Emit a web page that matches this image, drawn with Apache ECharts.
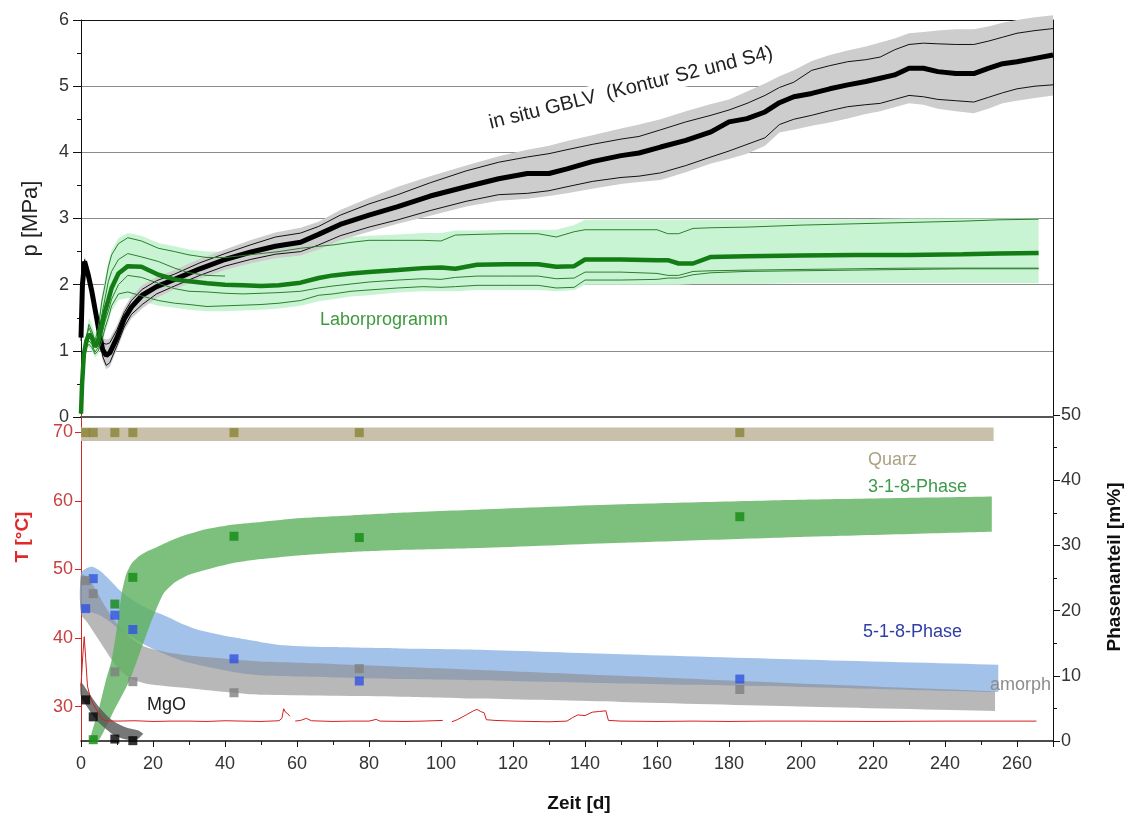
<!DOCTYPE html>
<html>
<head>
<meta charset="utf-8">
<script src="https://cdn.jsdelivr.net/npm/echarts/dist/echarts.min.js"></script>
<style>
html,body{margin:0;padding:0;background:#fff;}
#chart{width:1132px;height:819px;}
</style>
</head>
<body>
<div id="chart"></div>
<script>
// ---------- top panel: in situ GBLV (Kontur S2 und S4) ----------
const inSituDays = [0, 0.4, 1, 2, 3, 4, 5, 6, 7, 8, 10, 12, 14, 17, 21, 26, 33, 40, 47, 54, 61, 66, 72, 80, 88, 97, 107, 116, 124, 130, 135, 142, 150, 155, 161, 168, 175, 180, 185, 190, 194, 198, 203, 208, 213, 218, 222, 226, 230, 234, 238, 243, 248, 252, 256, 260, 265, 270];
const inSituMean = [1.2, 2.0, 2.35, 2.15, 1.9, 1.6, 1.3, 1.02, 0.93, 0.97, 1.2, 1.48, 1.66, 1.84, 1.97, 2.08, 2.24, 2.38, 2.49, 2.58, 2.64, 2.76, 2.91, 3.05, 3.18, 3.34, 3.48, 3.6, 3.68, 3.68, 3.75, 3.86, 3.95, 3.99, 4.08, 4.18, 4.31, 4.46, 4.51, 4.61, 4.75, 4.84, 4.89, 4.96, 5.02, 5.07, 5.12, 5.17, 5.27, 5.27, 5.22, 5.19, 5.19, 5.27, 5.34, 5.37, 5.42, 5.47];
const inSituUpper = [1.25, 2.05, 2.38, 2.2, 1.95, 1.65, 1.36, 1.12, 1.1, 1.12, 1.32, 1.58, 1.76, 1.93, 2.06, 2.16, 2.33, 2.47, 2.6, 2.72, 2.78, 2.88, 3.05, 3.22, 3.36, 3.54, 3.72, 3.85, 3.93, 3.98, 4.04, 4.12, 4.2, 4.24, 4.34, 4.46, 4.56, 4.64, 4.74, 4.86, 4.98, 5.06, 5.24, 5.31, 5.37, 5.4, 5.44, 5.55, 5.63, 5.65, 5.64, 5.63, 5.63, 5.68, 5.74, 5.8, 5.84, 5.87];
const inSituLower = [1.15, 1.95, 2.3, 2.1, 1.85, 1.55, 1.24, 0.92, 0.78, 0.82, 1.08, 1.36, 1.55, 1.7, 1.86, 1.98, 2.14, 2.28, 2.38, 2.46, 2.5, 2.6, 2.74, 2.87, 2.98, 3.12, 3.26, 3.36, 3.38, 3.42, 3.48, 3.56, 3.62, 3.64, 3.69, 3.8, 3.93, 4.02, 4.12, 4.22, 4.42, 4.5, 4.56, 4.63, 4.69, 4.72, 4.74, 4.8, 4.86, 4.84, 4.8, 4.78, 4.76, 4.83, 4.9, 4.96, 5.0, 5.02];
const inSituBandHi = [1.3, 2.1, 2.43, 2.26, 2.01, 1.71, 1.43, 1.2, 1.17, 1.19, 1.39, 1.65, 1.83, 1.99, 2.12, 2.22, 2.39, 2.53, 2.67, 2.79, 2.86, 2.95, 3.13, 3.31, 3.48, 3.64, 3.8, 3.94, 4.04, 4.1, 4.17, 4.26, 4.36, 4.42, 4.5, 4.62, 4.73, 4.8, 4.92, 5.04, 5.15, 5.24, 5.38, 5.47, 5.54, 5.6, 5.66, 5.72, 5.8, 5.82, 5.84, 5.86, 5.86, 5.9, 5.96, 6.0, 6.04, 6.07];
const inSituBandLo = [1.1, 1.9, 2.25, 2.05, 1.8, 1.5, 1.18, 0.85, 0.72, 0.76, 1.02, 1.3, 1.49, 1.64, 1.8, 1.93, 2.09, 2.22, 2.32, 2.4, 2.44, 2.53, 2.67, 2.8, 2.92, 3.04, 3.18, 3.27, 3.3, 3.34, 3.38, 3.45, 3.52, 3.55, 3.58, 3.7, 3.83, 3.9, 3.98, 4.1, 4.3, 4.34, 4.4, 4.45, 4.51, 4.58, 4.62, 4.68, 4.74, 4.72, 4.66, 4.62, 4.59, 4.66, 4.74, 4.78, 4.82, 4.86];

// ---------- top panel: Laborprogramm ----------
const laborDays = [0, 0.3, 0.8, 1.5, 2.2, 3, 3.9, 4.8, 5.8, 6.7, 7.6, 8.5, 10.4, 13, 16.8, 21.5, 26, 30, 35, 40, 45, 50, 55, 61, 66, 70, 75, 80, 88, 95, 100, 104, 110, 118, 127, 132, 137, 140, 150, 160, 163, 166, 170, 175, 185, 200, 215, 230, 245, 255, 266];
const laborMean = [0.05, 0.5, 0.95, 1.15, 1.25, 1.2, 1.06, 1.15, 1.4, 1.6, 1.77, 1.95, 2.17, 2.28, 2.27, 2.15, 2.08, 2.05, 2.02, 2.0, 1.99, 1.98, 1.99, 2.03, 2.1, 2.14, 2.17, 2.19, 2.22, 2.25, 2.26, 2.24, 2.3, 2.31, 2.31, 2.27, 2.28, 2.38, 2.38, 2.37, 2.37, 2.32, 2.32, 2.42, 2.43, 2.44, 2.45, 2.45, 2.46, 2.47, 2.48];
const laborUpper = [0.05, 0.6, 1.0, 1.2, 1.4, 1.3, 1.15, 1.35, 1.75, 2.0, 2.27, 2.45, 2.62, 2.71, 2.66, 2.55, 2.5, 2.45, 2.41, 2.41, 2.44, 2.47, 2.5, 2.55, 2.58, 2.6, 2.64, 2.67, 2.67, 2.67, 2.66, 2.75, 2.76, 2.77, 2.77, 2.72, 2.8, 2.83, 2.83, 2.83, 2.77, 2.77, 2.85, 2.86, 2.87, 2.9, 2.92, 2.94, 2.96, 2.98, 2.99];
const laborUpperMid = [0.05, 0.55, 1.0, 1.2, 1.35, 1.25, 1.1, 1.25, 1.55, 1.8, 2.05, 2.2, 2.38, 2.47, 2.42, 2.35, 2.25, 2.18, 2.14, 2.13, null, null, null, null, null, null, null, null, null, null, null, null, null, null, null, null, null, null, null, null, null, null, null, null, null, null, null, null, null, null, null];
const laborLowerMid = [0.05, 0.45, 0.9, 1.1, 1.15, 1.1, 0.98, 1.05, 1.25, 1.45, 1.6, 1.78, 2.0, 2.14, 2.11, 2.02, 1.94, 1.9, 1.89, 1.87, 1.86, 1.87, 1.88, 1.9, 1.95, 1.98, 2.01, 2.04, 2.07, 2.09, 2.08, 2.11, 2.13, 2.13, 2.13, 2.09, 2.1, 2.19, 2.19, 2.17, 2.14, 2.14, 2.2, 2.21, 2.22, 2.23, 2.24, 2.25, 2.25, 2.25, 2.25];
const laborLower = [0.05, 0.4, 0.85, 1.05, 1.1, 1.05, 0.95, 1.0, 1.15, 1.35, 1.5, 1.68, 1.86, 1.89, 1.83, 1.76, 1.72, 1.7, 1.67, 1.68, 1.69, 1.7, 1.72, 1.76, 1.84, 1.86, 1.9, 1.92, 1.95, 1.97, 1.96, 1.97, 1.99, 1.99, 1.99, 1.95, 1.96, 2.07, 2.07, 2.08, 2.1, 2.1, 2.15, 2.18, 2.2, 2.21, 2.22, 2.23, 2.24, 2.24, 2.24];
const laborBandHi = [0.1, 0.7, 1.1, 1.3, 1.5, 1.4, 1.25, 1.45, 1.85, 2.1, 2.35, 2.52, 2.7, 2.78, 2.74, 2.63, 2.58, 2.53, 2.5, 2.5, 2.52, 2.55, 2.58, 2.63, 2.66, 2.68, 2.72, 2.74, 2.76, 2.78, 2.78, 2.82, 2.82, 2.83, 2.83, 2.83, 2.9, 2.98, 2.98, 2.98, 2.98, 2.98, 2.98, 2.98, 2.98, 2.99, 2.99, 3.0, 3.0, 3.0, 3.0];
const laborBandLo = [0, 0.35, 0.8, 1.0, 1.05, 1.0, 0.9, 0.95, 1.1, 1.28, 1.42, 1.6, 1.77, 1.8, 1.75, 1.68, 1.65, 1.62, 1.6, 1.6, 1.61, 1.62, 1.64, 1.68, 1.75, 1.78, 1.82, 1.84, 1.88, 1.9, 1.9, 1.9, 1.92, 1.92, 1.92, 1.9, 1.92, 2.0, 2.0, 2.0, 2.0, 2.0, 2.01, 2.01, 2.01, 2.02, 2.02, 2.02, 2.02, 2.02, 2.02];

// ---------- bottom panel: phase contents [m%] ----------
const phaseDays = [1.3, 3.4, 9.4, 14.4, 42.5, 77.3, 183];
const quarzVals = [47.3, 47.3, 47.3, 47.3, 47.3, 47.3, 47.3];
const phase318Vals = [null, 0.2, 21.0, 25.1, 31.4, 31.2, 34.4];
const phase518Vals = [20.3, 24.9, 19.3, 17.1, 12.6, 9.2, 9.5];
const amorphVals = [24.6, 22.6, 10.6, 9.1, 7.4, 11.1, 7.9];
const mgoVals = [6.3, 3.7, 0.3, 0.05, null, null, null];

// band edges (trend bands)
const quarzBandX = [0, 253.5];
const quarzBandTop = [48.1, 48.1];
const quarzBandBot = [46.0, 46.0];

const b318TopX = [2.5, 5, 7, 8.5, 10, 11.3, 12.5, 14, 16, 18, 20, 24, 28, 35, 42.5, 50, 61, 75, 88.6, 111, 150, 200, 253];
const b318TopY = [0, 5, 9.5, 12.4, 17.5, 22.6, 25.5, 27.2, 28.3, 29.0, 29.5, 30.5, 31.4, 32.5, 33.2, 33.6, 34.2, 34.6, 35.0, 35.5, 36.3, 37.0, 37.5];
const b318BotX = [4.8, 9, 13.6, 17.3, 20, 22.9, 26, 30, 35, 42.3, 50, 61, 75, 88.6, 111, 150, 200, 253];
const b318BotY = [0, 4.5, 9.4, 15, 19, 22.6, 24.3, 25.5, 26.3, 27.3, 27.9, 28.5, 29, 29.3, 29.6, 30.4, 31.3, 32.1];

const b518TopX = [0, 1.5, 3.4, 5.5, 8, 11, 14.5, 19, 23.8, 28, 33, 42.3, 49.7, 56, 70, 88.6, 110.8, 150, 199.7, 254.8];
const b518TopY = [25.7, 26.5, 26.7, 26.0, 24.7, 23.0, 21.6, 20.2, 19.1, 18.0, 17.0, 15.9, 15.2, 14.7, 14.4, 14.2, 14.0, 13.3, 12.5, 11.7];
const b518BotX = [0, 2.5, 5.2, 8, 11, 14.5, 19, 23.8, 30, 42.3, 49.7, 61, 88.6, 110.8, 150, 199.7, 254.8];
const b518BotY = [20.0, 19.8, 19.3, 18.3, 17.0, 15.8, 14.4, 13.2, 12.0, 10.6, 10.1, 9.9, 9.5, 9.3, 8.8, 8.3, 7.5];

const amorphTopX = [0, 2, 4, 6, 8, 10, 12, 14.5, 18, 23.8, 30, 42.3, 49.7, 61, 88.6, 110.8, 150, 199.7, 253.9];
const amorphTopY = [25.5, 25.0, 23.3, 21.3, 19.5, 18.0, 16.8, 15.5, 14.4, 13.6, 13.1, 12.5, 12.2, 12.0, 11.4, 10.9, 10.0, 8.8, 7.6];
const amorphBotX = [0, 2, 4, 6, 8, 10, 12, 14.5, 19, 23.8, 30, 42.3, 49.7, 88.6, 110.8, 150, 199.7, 253.9];
const amorphBotY = [19.5, 18.0, 16.3, 14.6, 12.9, 11.4, 10.3, 9.4, 8.7, 8.4, 8.1, 7.4, 7.1, 6.8, 6.5, 6.0, 5.3, 4.6];

const mgoTopX = [0, 2, 3.4, 5, 7, 9.4, 12, 14.5, 16, 17.3];
const mgoTopY = [9.0, 7.5, 6.4, 5.2, 4.0, 2.9, 2.2, 1.8, 1.6, 1.1];
const mgoBotX = [0, 2, 3.4, 5, 7, 9.4, 12, 14.5, 16, 17.3];
const mgoBotY = [6.8, 5.0, 3.8, 2.8, 1.8, 0.8, 0.3, 0.1, 0.4, 1.1];

// ---------- bottom panel: temperature [°C] ----------
const tempDays = [0, 0.5, 0.9, 1.3, 1.8, 2.5, 3.3, 4.8, 5.8, 7, 10, 15, 20, 25, 30, 35, 40, 45, 50, 55, 55.8, 56.3, 56.8, 57.4, 58, 58.7, 59.5, 61, 62.6, 64, 70, 75, 80, 82, 83, 90, 95, 100.5, 101.8, 103, 104.5, 107, 109, 110, 111, 112, 112.6, 115, 120, 125, 130, 135, 136.5, 138, 140, 142, 144, 145.8, 146.5, 150, 160, 170, 180, 190, 200, 220, 240, 255, 265.4];
const tempVals = [33.0, 37.5, 40.2, 37.0, 33.0, 31.5, 30.5, 29.1, 28.2, 27.95, 27.9, 27.95, 27.85, 27.9, 27.9, 27.85, 27.95, 27.9, 27.85, 27.95, 28.3, 29.7, 29.2, 29.0, 28.6, null, 27.9, 28.0, 28.3, 27.95, 27.85, 27.9, 27.9, 28.15, 27.9, 27.85, 27.9, 28.0, null, 27.8, 28.1, 28.8, 29.4, 29.6, 29.3, 29.1, 28.1, 28.0, 27.9, 27.85, 27.8, 27.9, 28.4, 28.8, 28.7, 29.2, 29.3, 29.4, 28.0, 27.9, 27.85, 27.9, 27.85, 27.9, 27.9, 27.85, 27.9, 27.9, 27.9];
const tempTicks = [30, 40, 50, 60, 70];

// ---------- helpers ----------
const FONT = "'Liberation Sans', Arial, Helvetica, sans-serif";
function zip(xs, ys) { return xs.map((x, i) => [x, ys[i]]); }

// polygon band: top edge forward, bottom edge backward; sharpEnd keeps the right end cut square
function band(name, topX, topY, botX, botY, fill, xi, yi, z, smooth, sharpEnd) {
  return {
    type: 'custom', name: name, xAxisIndex: xi, yAxisIndex: yi, z: z,
    silent: true, clip: false, animation: false,
    data: [[topX[0], topY[0]]],
    renderItem: function (params, api) {
      const pts = [];
      for (let i = 0; i < topX.length; i++) pts.push(api.coord([topX[i], topY[i]]));
      if (sharpEnd) pts.push(pts[pts.length - 1].slice());
      const nb = pts.length;
      for (let i = botX.length - 1; i >= 0; i--) pts.push(api.coord([botX[i], botY[i]]));
      if (sharpEnd) pts.splice(nb, 0, pts[nb].slice());
      return { type: 'polygon', shape: { points: pts, smooth: smooth || 0 }, style: { fill: fill } };
    }
  };
}
function line(name, xs, ys, color, width, xi, yi, z) {
  return {
    type: 'line', name: name, xAxisIndex: xi, yAxisIndex: yi, z: z,
    data: zip(xs, ys), showSymbol: false, symbol: 'none', silent: true,
    connectNulls: false,
    lineStyle: { color: color, width: width }, animation: false
  };
}
function squares(name, xs, ys, color, z) {
  return {
    type: 'scatter', name: name, xAxisIndex: 2, yAxisIndex: 3, z: z,
    data: zip(xs, ys).filter(d => d[1] !== null),
    symbol: 'rect', symbolSize: 9, itemStyle: { color: color }, silent: true, animation: false
  };
}

const chart = echarts.init(document.getElementById('chart'), null, { renderer: 'canvas' });

const option = {
  backgroundColor: '#ffffff',
  animation: false,
  textStyle: { fontFamily: FONT },
  grid: [
    { left: 81, right: 79, top: 20, height: 397 },
    { left: 81, right: 79, top: 415, height: 326 }
  ],
  xAxis: [
    { type: 'value', gridIndex: 0, min: 0, max: 270, interval: 20,
      axisLine: { show: true, onZero: false, lineStyle: { color: '#555', width: 2 } },
      axisTick: { show: false }, axisLabel: { show: false }, splitLine: { show: false } },
    { type: 'value', gridIndex: 0, position: 'top', min: 0, max: 270, interval: 20,
      axisLine: { show: true, onZero: false, lineStyle: { color: '#111', width: 1 } },
      axisTick: { show: false }, axisLabel: { show: false }, splitLine: { show: false } },
    { type: 'value', gridIndex: 1, min: 0, max: 270, interval: 20,
      name: 'Zeit [d]', nameLocation: 'middle', nameGap: 53,
      nameTextStyle: { fontSize: 19, fontWeight: 'bold', color: '#111', fontFamily: FONT, padding: [0, 0, 0, 24] },
      axisLine: { show: true, onZero: false, lineStyle: { color: '#111', width: 1.5 } },
      axisTick: { show: true, length: 6, lineStyle: { color: '#111' } },
      minorTick: { show: true, splitNumber: 2, length: 4, lineStyle: { color: '#111' } },
      axisLabel: { fontSize: 18, color: '#333', margin: 14, showMaxLabel: false, fontFamily: FONT },
      splitLine: { show: false } }
  ],
  yAxis: [
    { type: 'value', gridIndex: 0, min: 0, max: 6, interval: 1,
      name: 'p [MPa]', nameLocation: 'middle', nameGap: 39,
      nameTextStyle: { fontSize: 22, color: '#222', fontFamily: FONT },
      axisLine: { show: true, onZero: false, lineStyle: { color: '#111', width: 1 } },
      axisTick: { show: true, length: 8, lineStyle: { color: '#111' } },
      minorTick: { show: true, splitNumber: 2, length: 4, lineStyle: { color: '#111' } },
      axisLabel: { fontSize: 18, color: '#333', margin: 12, fontFamily: FONT },
      splitLine: { show: true, lineStyle: { color: '#8c8c8c', width: 1 } } },
    { type: 'value', gridIndex: 0, position: 'right', min: 0, max: 6,
      axisLine: { show: true, onZero: false, lineStyle: { color: '#111', width: 1 } },
      axisTick: { show: false }, axisLabel: { show: false }, splitLine: { show: false } },
    { type: 'value', gridIndex: 1, min: 25, max: 72.5,
      axisLine: { show: true, onZero: false, lineStyle: { color: '#d02828', width: 1 } },
      axisTick: { show: true, length: 6, customValues: tempTicks, lineStyle: { color: '#d02828' } },
      axisLabel: { fontSize: 18, color: '#c94040', margin: 8, customValues: tempTicks, fontFamily: FONT },
      splitLine: { show: false } },
    { type: 'value', gridIndex: 1, position: 'right', min: 0, max: 50, interval: 10,
      axisLine: { show: true, onZero: false, lineStyle: { color: '#111', width: 1 } },
      axisTick: { show: true, length: 7, lineStyle: { color: '#111' } },
      minorTick: { show: true, splitNumber: 2, length: 4, lineStyle: { color: '#111' } },
      axisLabel: { fontSize: 18, color: '#333', margin: 8, fontFamily: FONT },
      splitLine: { show: false } }
  ],
  series: [
    // top panel
    band('Laborprogramm Band', laborDays, laborBandHi, laborDays, laborBandLo, '#c9f4d3', 0, 0, 2),
    band('in situ Band', inSituDays, inSituBandHi, inSituDays, inSituBandLo, '#cdcdcd', 0, 0, 3),
    line('in situ oben', inSituDays, inSituUpper, '#111', 1, 0, 0, 4),
    line('in situ unten', inSituDays, inSituLower, '#111', 1, 0, 0, 4),
    line('in situ GBLV', inSituDays, inSituMean, '#000', 5, 0, 0, 5),
    line('Labor oben', laborDays, laborUpper, '#2c7f2c', 1, 0, 0, 6),
    line('Labor oben 2', laborDays, laborUpperMid, '#2c7f2c', 1, 0, 0, 6),
    line('Labor unten 2', laborDays, laborLowerMid, '#2c7f2c', 1, 0, 0, 6),
    line('Labor unten', laborDays, laborLower, '#2c7f2c', 1, 0, 0, 6),
    line('Laborprogramm', laborDays, laborMean, '#147c14', 4.5, 0, 0, 7),
    // bottom panel bands
    band('Quarz Band', quarzBandX, quarzBandTop, quarzBandX, quarzBandBot, '#c8c0a8', 2, 3, 2),
    band('5-1-8 Band', b518TopX, b518TopY, b518BotX, b518BotY, 'rgba(128,170,226,0.72)', 2, 3, 3, 0.25, true),
    band('amorph Band', amorphTopX, amorphTopY, amorphBotX, amorphBotY, 'rgba(140,140,140,0.62)', 2, 3, 4, 0.25, true),
    band('3-1-8 Band', b318TopX, b318TopY, b318BotX, b318BotY, 'rgba(96,178,96,0.82)', 2, 3, 5, 0.2, true),
    band('MgO Band', mgoTopX, mgoTopY, mgoBotX, mgoBotY, 'rgba(85,85,85,0.8)', 2, 3, 6, 0.25),
    // temperature
    line('T', tempDays, tempVals, '#d42020', 1, 2, 2, 8),
    // squares
    squares('Quarz', phaseDays, quarzVals, '#8b8236', 9),
    squares('3-1-8-Phase', phaseDays, phase318Vals, '#118a11', 9),
    squares('5-1-8-Phase', phaseDays, phase518Vals, '#2f52e0', 9),
    squares('amorph', phaseDays, amorphVals, '#808080', 9),
    squares('MgO', phaseDays, mgoVals, '#000000', 9)
  ],
  graphic: [
    { type: 'text', x: 631, y: 88, rotation: 14 * Math.PI / 180, z: 50,
      style: { text: 'in situ GBLV  (Kontur S2 und S4)', font: '20px ' + FONT, fill: '#222',
               align: 'center', verticalAlign: 'middle', backgroundColor: '#fff', padding: [2, 6] } },
    { type: 'text', x: 320, y: 320, z: 50,
      style: { text: 'Laborprogramm', font: '18px ' + FONT, fill: '#3d9a3d', verticalAlign: 'middle' } },
    { type: 'text', x: 868, y: 460, z: 50,
      style: { text: 'Quarz', font: '18px ' + FONT, fill: '#aaa283', verticalAlign: 'middle' } },
    { type: 'text', x: 868, y: 487, z: 50,
      style: { text: '3-1-8-Phase', font: '18px ' + FONT, fill: '#3c9a4a', verticalAlign: 'middle' } },
    { type: 'text', x: 863, y: 632, z: 50,
      style: { text: '5-1-8-Phase', font: '18px ' + FONT, fill: '#2f3ea6', verticalAlign: 'middle' } },
    { type: 'text', x: 990, y: 685, z: 50,
      style: { text: 'amorph', font: '18px ' + FONT, fill: '#8c8c8c', verticalAlign: 'middle' } },
    { type: 'text', x: 147, y: 705, z: 50,
      style: { text: 'MgO', font: '18px ' + FONT, fill: '#222', verticalAlign: 'middle' } },
    { type: 'text', x: 23, y: 537, rotation: Math.PI / 2, z: 50,
      style: { text: 'T [°C]', font: 'bold 19px ' + FONT, fill: '#e02a2a', align: 'center', verticalAlign: 'middle' } },
    { type: 'text', x: 1115, y: 567, rotation: Math.PI / 2, z: 50,
      style: { text: 'Phasenanteil [m%]', font: 'bold 19px ' + FONT, fill: '#111', align: 'center', verticalAlign: 'middle' } }
  ]
};
chart.setOption(option);
</script>
</body>
</html>
